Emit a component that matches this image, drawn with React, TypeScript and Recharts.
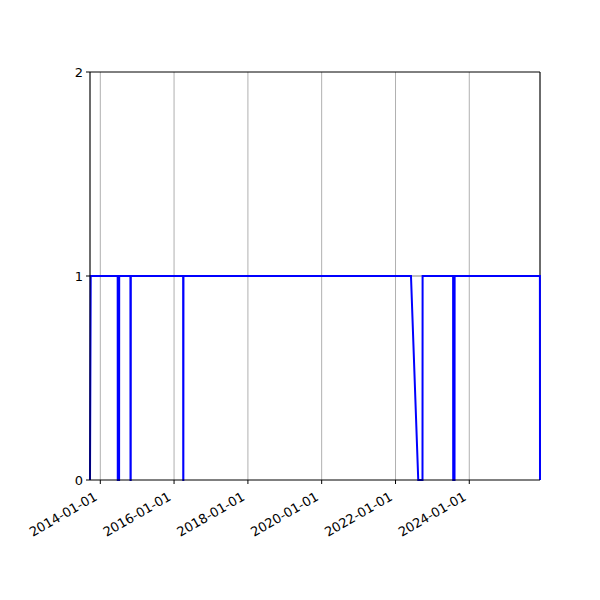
import { CartesianGrid, Line, LineChart, ReferenceLine, XAxis, YAxis } from "recharts";

const dates = [
  "2013-09-21", "2013-09-28",
  "2014-06-22", "2014-06-23", "2014-07-06", "2014-07-07",
  "2014-10-26", "2014-10-27", "2014-10-29", "2014-10-30",
  "2016-03-31", "2016-04-01", "2016-04-02", "2016-04-03",
  "2022-06-03", "2022-08-14", "2022-09-25", "2022-09-26",
  "2023-07-25", "2023-07-26", "2023-08-08", "2023-08-09",
  "2025-11-30", "2025-12-01",
];
const status = [
  0, 1,
  1, 0, 0, 1,
  1, 0, 0, 1,
  1, 0, 0, 1,
  1, 0, 0, 1,
  1, 0, 0, 1,
  1, 0,
];
// faint grey reference visible only across the 2022 gap
const reference = [
  null, null,
  null, null, null, null,
  null, null, null, null,
  null, null, null, null,
  1, null, null, 1,
  null, null, null, null,
  null, null,
];
const xTickLabels = ["2014-01-01", "2016-01-01", "2018-01-01", "2020-01-01", "2022-01-01", "2024-01-01"];
const yTicks = [0, 1, 2];

const toTime = (d: string) => Date.parse(d + "T00:00:00Z");
const fmt = (t: number) => new Date(t).toISOString().slice(0, 10);

const data = dates.map((d, i) => ({ t: toTime(d), status: status[i], reference: reference[i] }));
const xTicks = xTickLabels.map(toTime);
const tMin = data[0].t;
const tMax = data[data.length - 1].t;

const FONT = "'DejaVu Sans', sans-serif";

function DateTick(props: any) {
  const { x, y, payload } = props;
  return (
    <g transform={`translate(${x - 7},${y + 4})`}>
      <text
        transform="rotate(-30)"
        textAnchor="end"
        dominantBaseline="hanging"
        fontFamily={FONT}
        fontSize={13}
        fill="#000"
      >
        {fmt(payload.value)}
      </text>
    </g>
  );
}

export default function App() {
  return (
    <div style={{ position: "absolute", left: 0, top: 0, width: 600, height: 600, background: "#fff" }}>
      <LineChart
        width={600}
        height={600}
        data={data}
        margin={{ top: 72, right: 60, left: 50, bottom: 60 }}
      >
        <CartesianGrid horizontal={false} stroke="#b0b0b0" strokeWidth={1} />
        <XAxis
          dataKey="t"
          type="number"
          scale="time"
          domain={[tMin, tMax]}
          ticks={xTicks}
          tick={<DateTick />}
          height={60}
          tickSize={4}
          tickMargin={3}
          stroke="#000"
          interval={0}
        />
        <YAxis
          type="number"
          domain={[0, 2]}
          ticks={yTicks}
          width={40}
          tickSize={4}
          tickMargin={3}
          stroke="#000"
          tick={{ fill: "#000", fontSize: 13, fontFamily: FONT }}
          interval={0}
        />
        <ReferenceLine y={2} stroke="#000" />
        <ReferenceLine x={tMax} stroke="#000" />
        <Line
          dataKey="reference"
          type="linear"
          stroke="#aaaaaa"
          strokeWidth={1.5}
          dot={false}
          connectNulls
          isAnimationActive={false}
        />
        <Line
          dataKey="status"
          type="linear"
          stroke="#0000ff"
          strokeWidth={2}
          dot={false}
          isAnimationActive={false}
        />
      </LineChart>
    </div>
  );
}
